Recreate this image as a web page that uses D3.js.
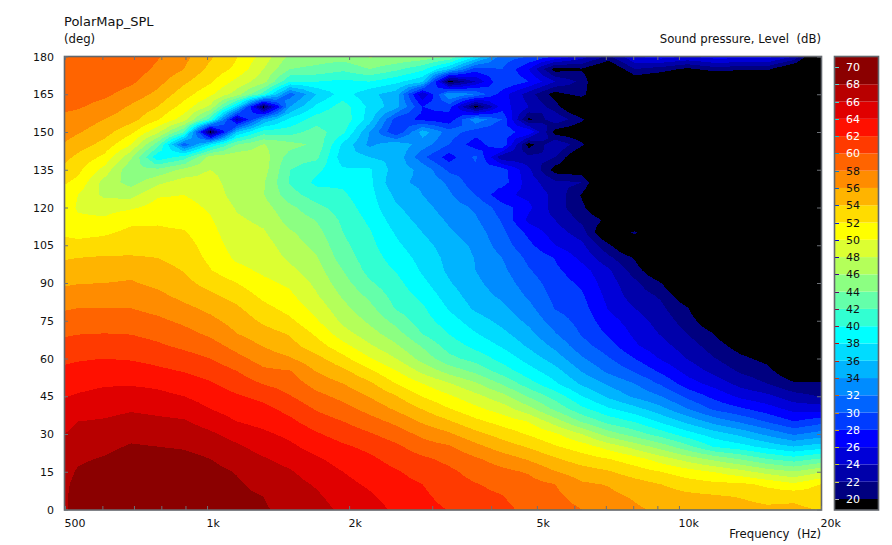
<!DOCTYPE html>
<html><head><meta charset="utf-8">
<script src="https://cdn.jsdelivr.net/npm/d3@7"></script>
<style>
html,body{margin:0;padding:0;background:#fff}
svg{display:block}
text{font-family:"DejaVu Sans",sans-serif;font-size:11px;fill:#111}
.axis path{display:none}
.axis line{stroke:#6c7076;stroke-width:1}
</style></head><body>
<svg id="chart" width="892" height="545"></svg>
<script>
const chartTitle = "PolarMap_SPL";
const yUnit = "(deg)";
const legendTitle = "Sound pressure, Level  (dB)";
const xTitle = "Frequency  (Hz)";

const freqs = [468,533,606,690,785,893,1017,1157,1317,1499,1706,1942,2210,2515,2862,3258,3708,4220,4803,5466,6221,7080,8058,9171,10437,11879,13519,15386,17511,19929,22681];
const angles = [0,5,10,15,20,25,30,35,40,45,50,55,60,65,70,75,80,85,90,95,100,105,110,115,120,125,130,135,140,145,150,155,160,165,170,175,180];

// SPL in dB: one line per frequency, one value per angle (0 to 180 deg)
const spl = [
[67.1,67,66.9,66.6,66.3,66,65.4,64.6,64.4,63.6,63,62.2,61.4,60.5,59.5,58.6,57.6,56.6,55.5,54.8,53.6,52.6,52,51.9,51.8,52.4,52.9,54.3,55.7,56.6,57.4,58,58.4,58.7,59.1,59.4,59.6],
[68.5,68.6,68.5,68.2,67.7,67.2,66.6,66,65,64.2,63.4,62.6,61.8,60.9,59.9,59,58,57,55.9,55,54,52.6,51.4,50.3,49.8,50,51.5,52.5,53.5,55,56.2,57.2,58.2,58.9,59.3,59.6,59.8],
[68.9,69,69,68.9,68.2,67.5,66.9,66.2,65.4,64.6,63.8,62.9,62,61,60,59.1,58,57.1,56,55.1,54.2,52.9,51.7,50.3,49.3,47.5,47.2,49.3,51.5,53.3,54.8,56,57.3,58.4,59,59.3,59.6],
[69.2,69.3,69.4,69.3,69,68.2,67.4,66.6,65.8,64.9,63.8,63,61.8,60.9,59.9,58.9,58,57.1,56.2,55.4,54.2,53.2,52.5,51.5,49.7,47.3,45.2,44.2,46.5,50,52.5,54.8,55.7,57.2,58.4,59.1,59.5],
[69.4,69.5,69.5,69.3,68.8,68,67.2,66.4,65.5,64.5,63.6,62.4,61.4,60.3,59.4,58.4,57.4,56.5,55.5,54.8,54,53.2,52.4,51.7,50.7,49.8,47.5,44.5,38.5,43,48.5,52.2,54,55.5,56.7,57.6,58.2],
[69.2,69.3,69.2,69,68.6,67.8,67,66.2,65.1,64,63,61.9,60.8,59.6,58.6,57.6,56.5,55.4,54.6,53.9,53.3,52.9,52.2,51.3,50.7,50,48.9,46.5,41,30.5,42,49,51.2,52.9,54.4,56,56.6],
[68.9,68.9,68.7,68.5,68,67.3,66.3,65.2,64,63.1,62.2,61.2,60,58.8,57.6,56.5,55.5,54.4,53.2,52.1,51.5,51,50.6,50.2,49.7,49.2,48.7,48,47,38,19,41,47.5,50.4,52.3,53.4,54.3],
[68.5,68.4,68.2,67.9,67.2,66.3,65.2,64,63,62.2,61.1,60,58.6,57.3,56,55.2,54.3,53.2,52,50.6,49.6,49.1,48.7,48.3,47.8,47.1,47,47.3,47.4,44,36,23.5,37,47,49.3,51.5,52.1],
[68.2,68,67.5,66.9,66.2,65.2,64.4,63.3,62.5,61.5,59.9,58.4,57.1,55.9,54.8,53.6,52.6,51.5,50.5,49.6,49.3,48.8,48.2,47.6,46.8,46.1,46.2,46.9,47,46.1,41,34,19,41,46.8,48,49.2],
[67.4,67,66.7,66.2,65.3,64.4,63.5,62.4,61.4,60.1,59.1,58.1,56.2,54.7,53.8,52.4,51.3,50.4,49.6,48.5,47.6,47,46.3,45.2,44.5,42.8,41.8,42,43,44.8,41,38.5,34,31,40,44,45.5],
[66.6,66.3,65.8,65,64.3,63.2,62.2,61,59.8,58.6,57.2,55.9,54.6,52.9,51.6,50.2,49.2,48.2,47.5,46.8,46.2,45.4,44.7,43.9,42.6,41,39.5,40.5,42.5,43.5,43,41,38.5,36,40,43.5,45],
[65.7,65.2,64.6,64,63.2,62.3,61.2,60,58.7,57.4,56,54.5,52.6,50.7,48.8,47.5,46.6,45.7,44.8,44,43,42.5,42,41.6,41,40.3,39.6,38.3,36.7,37.5,40.5,41.5,41,39,39.5,42.5,45],
[64.9,64.3,63.7,63,62.4,61.5,60.2,58.8,57.3,55.9,54.4,52.4,50.2,48.3,46.8,45.6,44.6,43.5,42.3,41.3,41,40.6,40.2,39.6,39,38.7,38.5,38.3,36,33.5,34,37,37.5,36.5,40,44,46.2],
[63.6,63.2,62.7,62.2,61.3,60.4,59,57.5,55.7,54.1,52,50.1,48,46.3,44.8,43.3,41.8,41.2,40.6,39.9,39.1,38.4,37.8,37,36.3,35.5,34.3,35,35.5,35.5,28,29,34.8,35,38.5,42.5,46],
[62.7,62.4,62,61.2,60.4,58.9,57.5,55.7,53.9,51.9,50,47.5,45.2,43.8,41.9,40.9,40.3,39.4,38.5,37.7,37.3,36.7,36,35.3,34.7,34,33.7,33.5,30.5,33,35,27.5,28,24,36.5,40.5,45.5],
[61.9,61.3,60.8,60.4,59.5,58.2,56.3,54.2,52.1,50.3,48.2,45.2,42.6,41.1,39.9,38.9,37.8,37,36.2,35.6,35.4,35,34.3,33.7,33,32.3,31.6,29.5,27,30,31,26.5,29,34,19,36,44],
[60.8,60.5,60.1,59.3,58.3,56.6,54.6,52.5,50.5,48.6,46.3,43.5,41.2,39.4,38.1,36.9,35.6,34.9,34.4,34,33.9,33.6,33,32.3,31.7,30,28.7,29.2,30.5,26.8,29,33.5,19,32,24,29,38],
[60.4,60.1,59.5,58.5,57.1,55,53.2,51.2,49,46.7,43.8,41.1,39.3,37.8,36.5,35.4,34.5,33.6,33,32.5,32,31,30.5,29.8,29,26.5,29,29,22.5,30,28,30,27,27,30,30,31],
[59.6,59.1,58.7,57.8,55.8,53.8,51.8,49.9,46.7,43.8,40.9,38.8,37.2,35.7,34.6,33.5,32.6,31.7,31,30.2,29.5,28.5,27.5,25.5,26.5,25.5,25,24.5,22.5,19,28,19.5,24,23,28,26,30],
[58.9,58.5,58,56.1,54.3,52.2,50.3,47,43.5,41.2,38.3,36.8,35,33.5,32.1,31,29.9,29.4,29,28.4,27.9,26,25,24,23,23.5,22.5,19,22,24,19,23.5,21,19,24,19,28],
[58,57.2,56.3,55,53,51,48,43.8,40.5,38.1,35.7,33.9,32.3,30.8,29.8,29.3,28.8,28.3,27.6,26.8,25.5,24.5,23,21.5,20.5,19.8,22,18.5,17,20.5,18,20.5,16,21,21.5,19.8,25],
[56.9,56.5,55.9,54.2,52.1,49.2,45,41.3,38.3,35.6,33.7,31.6,30.2,28.9,27.7,26.8,25.9,25.4,24.9,24.4,22.5,20.5,17,19.5,17,15,15,15,15,15,15,15,15,15,15,17,21.5],
[56.3,55.8,54.9,53,50.9,47.2,43,39.8,36.7,33.6,32,29.8,28,26.3,25.6,25,24,23,22.5,21,19.8,16,20.6,15,15,15,15,15,15,15,15,15,15,15,18,22,26],
[55.6,55,54,52,49,45.1,41,37.6,34.6,32,29.7,27.6,25.8,24.7,23.8,23.1,22.4,21.7,20,17.5,15,15,15,15,15,15,15,15,15,15,15,15,15,15,17,21,27],
[55.1,54.6,53,50.9,47.2,42.6,38.8,35.4,32,29.5,26.9,25.3,23.9,23,21.9,21,20.1,18,16,15,15,15,15,15,15,15,15,15,15,15,15,15,15,15,15,19.5,26],
[55,54.3,52.5,49.9,45.5,39.8,37,33.2,29.6,27.4,25.3,23.4,22.1,21,19.9,18,16,15,15,15,15,15,15,15,15,15,15,15,15,15,15,15,15,15,15,21,27],
[54.8,53.9,52.4,48.7,43.9,38.8,35.4,31.6,28.3,25.5,23.3,21.7,20.5,19,17,15,15,15,15,15,15,15,15,15,15,15,15,15,15,15,15,15,15,15,15,20.5,27],
[54.5,53.2,51.6,47.2,42.1,37.3,33.5,29.8,26.9,24.5,22,20.7,19.3,17,15,15,15,15,15,15,15,15,15,15,15,15,15,15,15,15,15,15,15,15,15,20.5,27],
[54.4,53.6,50.4,46.1,41,36,31.7,28,25.3,22.8,20.3,18,16,15,15,15,15,15,15,15,15,15,15,15,15,15,15,15,15,15,15,15,15,15,15,17,24],
[53.9,53,52,47.7,42.3,37,32.8,29.2,25.1,21.9,20.4,18,16,15,15,15,15,15,15,15,15,15,15,15,15,15,15,15,15,15,15,15,15,15,15,15,15],
[53.5,52.6,51.4,47.2,41.8,36.5,32.2,28.6,24.5,21.4,19.9,17.5,15.5,15,15,15,15,15,15,15,15,15,15,15,15,15,15,15,15,15,15,15,15,15,15,15,15]
];

const levels = [20,22,24,26,28,30,32,34,36,38,40,42,44,46,48,50,52,54,56,58,60,62,64,66,68];
const bandColors = ["#000080","#0000aa","#0000d8","#0000ff","#003cff","#0064ff","#008cff","#00b4ff","#00dcff","#00ffff","#32ffd2","#64ffaa","#8cff82","#b4ff5a","#dcff32","#ffff00","#ffdc00","#ffb400","#ff8c00","#ff6400","#ff3a00","#ff1000","#e00000","#b80000","#8b0000"];
const belowColor = "#000000";

const angleTicks = [0,15,30,45,60,75,90,105,120,135,150,165,180];
const freqTicks = [500,600,700,800,900,1000,2000,3000,4000,5000,6000,7000,8000,9000,10000,20000];
const freqLabels = new Map([[500,"500"],[1000,"1k"],[2000,"2k"],[5000,"5k"],[10000,"10k"],[20000,"20k"]]);
const legendTicks = [20,22,24,26,28,30,32,34,36,38,40,42,44,46,48,50,52,54,56,58,60,62,64,66,68,70];

const svg = d3.select("#chart");
const x = d3.scaleLog().domain([500,20000]).range([65,821]);
const y = d3.scaleLinear().domain([0,180]).range([509.5,56.5]);
const dx = freqs.length, dy = angles.length;
const colX = d3.scaleLinear().domain([0,dx-1]).range([x(freqs[0]),x(freqs[dx-1])]);
const rowY = d3.scaleLinear().domain([0,dy-1]).range([y(angles[0]),y(angles[dy-1])]);

const defs = svg.append("defs");
defs.append("clipPath").attr("id","plotClip").append("rect")
  .attr("x",65).attr("y",56.5).attr("width",756).attr("height",453);

const plot = svg.append("g").attr("clip-path","url(#plotClip)");
plot.append("rect").attr("x",65).attr("y",56.5).attr("width",756).attr("height",453).attr("fill",belowColor);

// Contour grid at twice the resolution so that saddle cells split on their mean value
const fx = 2*dx-1, fy = 2*dy-1, values = [];
for (let r=0;r<fy;r++) for (let c=0;c<fx;c++) {
  const c0=Math.floor(c/2), c1=Math.ceil(c/2), r0=Math.floor(r/2), r1=Math.ceil(r/2);
  values.push((spl[c0][r0]+spl[c1][r0]+spl[c0][r1]+spl[c1][r1])/4);
}
const contours = d3.contours().size([fx,fy]).thresholds(levels).smooth(true)(values);
const path = d3.geoPath(d3.geoTransform({point(px,py){this.stream.point(colX((px-0.5)/2),rowY((py-0.5)/2));}}));
const color = d3.scaleOrdinal().domain(levels).range(bandColors);
plot.selectAll("path").data(contours).join("path")
  .attr("d",path).attr("fill",d=>color(d.value)).attr("shape-rendering","crispEdges");

// frame
svg.append("rect").attr("x",64.5).attr("y",56.5).attr("width",757).attr("height",453.5)
  .attr("fill","none").attr("stroke","#62666c").attr("stroke-width",1.6);

// axes
const bottom = svg.append("g").attr("class","axis").attr("transform","translate(0,510)")
  .call(d3.axisBottom(x).tickValues(freqTicks).tickSize(-4).tickPadding(9).tickFormat(d=>freqLabels.get(d)||""));
bottom.selectAll("text").attr("text-anchor","start").attr("dx",-1);
svg.append("g").attr("class","axis").attr("transform","translate(0,56)")
  .call(d3.axisTop(x).tickValues(freqTicks).tickSize(-4).tickFormat(""));
svg.append("g").attr("class","axis").attr("transform","translate(64,0)")
  .call(d3.axisLeft(y).tickValues(angleTicks).tickSize(-4).tickPadding(10));
svg.append("g").attr("class","axis").attr("transform","translate(821,0)")
  .call(d3.axisRight(y).tickValues(angleTicks).tickSize(-4).tickFormat(""));
svg.selectAll(".axis text").style("font-family",'"DejaVu Sans",sans-serif').style("font-size","11px").style("fill","#111");

// titles
svg.append("text").attr("x",64).attr("y",26).style("font-size","13px").text(chartTitle);
svg.append("text").attr("x",64).attr("y",43).style("font-size","11.7px").text(yUnit);
svg.append("text").attr("x",821).attr("y",43).attr("text-anchor","end").attr("xml:space","preserve").style("font-size","11.7px").text(legendTitle);
svg.append("text").attr("x",821).attr("y",538).attr("text-anchor","end").attr("xml:space","preserve").style("font-size","11.7px").text(xTitle);

// legend
const ly = d3.scaleLinear().domain([20,70]).range([499,67]);
const lx0 = 835, lw = 43, lTop = 56.5, lBottom = 510;
const legend = svg.append("g");
legend.append("rect").attr("x",lx0).attr("y",ly(20)).attr("width",lw).attr("height",lBottom-ly(20)).attr("fill",belowColor);
legend.selectAll("rect.band").data(levels).join("rect").attr("class","band")
  .attr("x",lx0).attr("width",lw).attr("fill",d=>color(d))
  .attr("y",d=>d===68?lTop:ly(d+2)).attr("height",d=>ly(d)-(d===68?lTop:ly(d+2)));
legend.selectAll("line").data(legendTicks).join("line")
  .attr("x1",lx0).attr("x2",lx0+4).attr("y1",d=>Math.round(ly(d))+0.5).attr("y2",d=>Math.round(ly(d))+0.5)
  .attr("stroke",d=>{const c=d3.rgb(d===70?color(68):color(d));return d===20?"#aaa":d3.rgb(255-c.r,255-c.g,255-c.b).darker(0.5);});
legend.selectAll("text").data(legendTicks).join("text")
  .attr("x",lx0+11).attr("y",d=>ly(d)+4)
  .style("fill",d=>(d>=60||d<=32)?"#fff":"#111").text(d=>d);
legend.append("rect").attr("x",lx0-0.5).attr("y",lTop).attr("width",lw+1).attr("height",lBottom-lTop)
  .attr("fill","none").attr("stroke","#62666c").attr("stroke-width",1.6);
</script>
</body></html>
